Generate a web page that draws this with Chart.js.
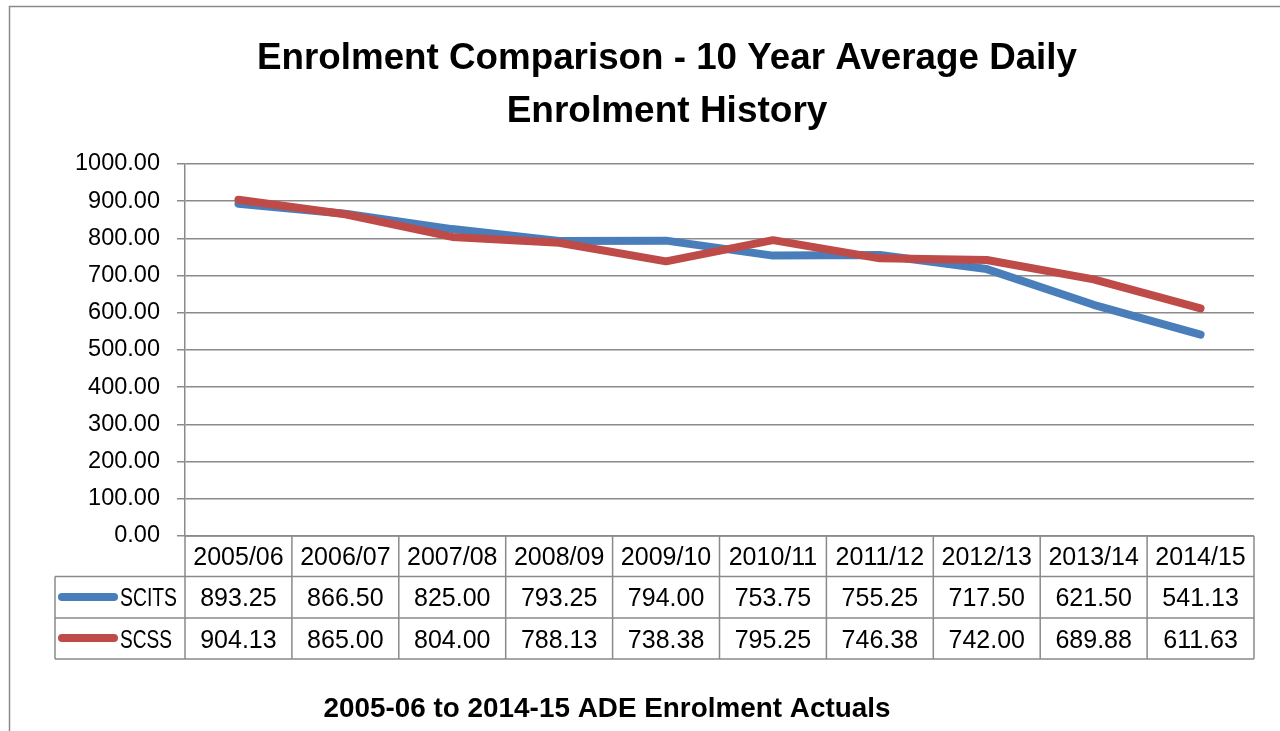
<!DOCTYPE html>
<html>
<head>
<meta charset="utf-8">
<title>Enrolment Comparison</title>
<script src="https://cdn.jsdelivr.net/npm/chart.js@4/dist/chart.umd.min.js"></script>
<style>
  html, body { margin: 0; padding: 0; background: #fff; }
  #chart { display: block; }
</style>
</head>
<body>
<canvas id="chart" width="1280" height="731"></canvas>
<script>
// ── Data ───────────────────────────────────────────────────────
const years  = ["2005/06", "2006/07", "2007/08", "2008/09", "2009/10", "2010/11", "2011/12", "2012/13", "2013/14", "2014/15"];
const scits  = [893.25, 866.50, 825.00, 793.25, 794.00, 753.75, 755.25, 717.50, 621.50, 541.13];
const scss   = [904.13, 865.00, 804.00, 788.13, 738.38, 795.25, 746.38, 742.00, 689.88, 611.63];
const seriesNames = ["SCITS", "SCSS"];
const yMin = 0, yMax = 1000, yStep = 100;

const titleLines = ["Enrolment Comparison - 10 Year Average Daily", "Enrolment History"];
const footText   = "2005-06 to 2014-15 ADE Enrolment Actuals";

const BLUE = "#4a7ebb";
const RED  = "#be4b48";
const GRID = "#8a8a8a";
const FONT = "'Liberation Sans', Arial, sans-serif";

// ── Frame, titles and data table drawn around the plot ────────
const decorPlugin = {
  id: "decor",
  afterDraw(chart) {
    const { ctx, chartArea: a, scales: { x } } = chart;
    ctx.save();

    // outer frame
    ctx.strokeStyle = GRID;
    ctx.lineWidth = 1.5;
    ctx.beginPath();
    ctx.moveTo(9.5, 740); ctx.lineTo(9.5, 6.5); ctx.lineTo(1290, 6.5);
    ctx.stroke();

    // titles
    ctx.fillStyle = "#000";
    ctx.textAlign = "center";
    ctx.textBaseline = "alphabetic";
    ctx.font = `bold 37px ${FONT}`;
    ctx.fillText(titleLines[0], 667, 69, 820);
    ctx.fillText(titleLines[1], 667, 122, 322);
    ctx.font = `bold 28px ${FONT}`;
    ctx.fillText(footText, 607, 717, 567);

    // data table
    const half = (x.getPixelForValue(1) - x.getPixelForValue(0)) / 2;
    const colL = (i) => x.getPixelForValue(i) - half;
    const top = a.bottom, r1 = 576.5, r2 = 618, bot = 659;
    const tblLeft = 55;

    ctx.strokeStyle = GRID;
    ctx.lineWidth = 1.5;
    ctx.beginPath();
    // horizontal lines
    ctx.moveTo(a.left, top); ctx.lineTo(a.right, top);
    ctx.moveTo(tblLeft, r1); ctx.lineTo(a.right, r1);
    ctx.moveTo(tblLeft, r2); ctx.lineTo(a.right, r2);
    ctx.moveTo(tblLeft, bot); ctx.lineTo(a.right, bot);
    // vertical lines
    ctx.moveTo(tblLeft, r1); ctx.lineTo(tblLeft, bot);
    for (let i = 0; i <= years.length; i++) {
      const px = i < years.length ? colL(i) : a.right;
      ctx.moveTo(px, top); ctx.lineTo(px, bot);
    }
    ctx.stroke();

    ctx.fillStyle = "#000";
    ctx.font = `25px ${FONT}`;
    ctx.textAlign = "center";
    years.forEach((y, i) => ctx.fillText(y, x.getPixelForValue(i), 565));
    scits.forEach((v, i) => ctx.fillText(v.toFixed(2), x.getPixelForValue(i), 606));
    scss.forEach((v, i) => ctx.fillText(v.toFixed(2), x.getPixelForValue(i), 648));

    // legend keys
    [[BLUE, 597, 606], [RED, 638, 648]].forEach(([c, ly, by], k) => {
      ctx.strokeStyle = c;
      ctx.lineWidth = 8;
      ctx.lineCap = "round";
      ctx.beginPath(); ctx.moveTo(62, ly); ctx.lineTo(114, ly); ctx.stroke();
      ctx.textAlign = "left";
      ctx.fillText(seriesNames[k], 120, by, k === 0 ? 57 : 52);
    });

    ctx.restore();
  },
};

// ── Chart ──────────────────────────────────────────────────────
new Chart(document.getElementById("chart").getContext("2d"), {
  type: "line",
  data: {
    labels: years,
    datasets: [
      { label: seriesNames[0], data: scits, borderColor: BLUE, order: 1 },
      { label: seriesNames[1], data: scss,  borderColor: RED,  order: 0 },
    ],
  },
  options: {
    responsive: false,
    animation: false,
    devicePixelRatio: 1,
    layout: { padding: { top: 164, right: 26, bottom: 195, left: 0 } },
    elements: {
      line: { borderWidth: 8, tension: 0, borderCapStyle: "round", borderJoinStyle: "round", fill: false },
      point: { radius: 0, hoverRadius: 0 },
    },
    plugins: { legend: { display: false }, title: { display: false }, tooltip: { enabled: false } },
    scales: {
      x: { type: "category", offset: true, display: false },
      y: {
        min: yMin, max: yMax,
        afterFit: (s) => { s.width = 185; },
        ticks: {
          stepSize: yStep,
          padding: 17,
          color: "#000",
          font: { family: FONT, size: 23.5 },
          callback: (v) => Number(v).toFixed(2),
        },
        grid: { color: GRID, lineWidth: 1.5, tickLength: 8 },
        border: { color: GRID, width: 1.5 },
      },
    },
  },
  plugins: [decorPlugin],
});
</script>
</body>
</html>
